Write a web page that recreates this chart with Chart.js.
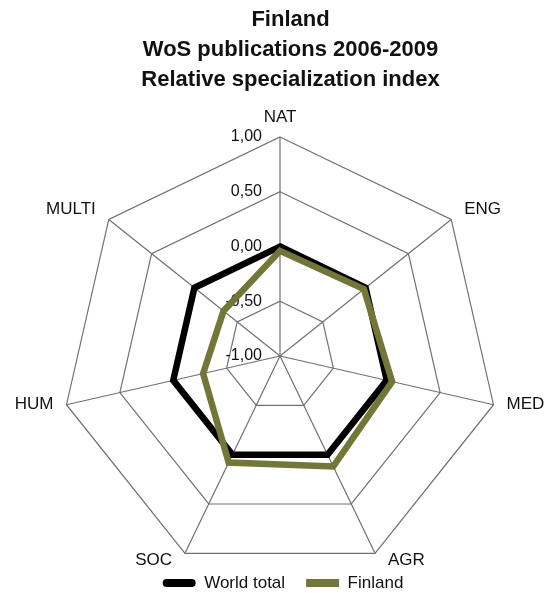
<!DOCTYPE html>
<html>
<head>
<meta charset="utf-8">
<script src="https://cdn.jsdelivr.net/npm/chart.js@4.4.1/dist/chart.umd.min.js"></script>
<style>
  html, body { margin: 0; padding: 0; background: #ffffff; }
  canvas { display: block; }
</style>
</head>
<body>
<canvas id="c" width="547" height="593"></canvas>
<script>
// ---- data ----
const categories = ['NAT', 'ENG', 'MED', 'AGR', 'SOC', 'HUM', 'MULTI'];
const worldTotal = [0, 0, 0, 0, 0, 0, 0];
const finland = [-0.04, -0.02, 0.05, 0.12, 0.08, -0.28, -0.34];
const tickLabels = ['-1,00', '-0,50', '0,00', '0,50', '1,00'];
const titleLines = ['Finland', 'WoS publications 2006-2009', 'Relative specialization index'];
const seriesNames = ['World total', 'Finland'];

const FONT = '"Liberation Sans", Arial, Helvetica, sans-serif';
const GRID = '#6c7175';
const OLIVE = '#737637';
Chart.defaults.font.family = FONT;

// tick labels drawn right-aligned beside the vertical axis, under the data
const tickPlugin = {
  id: 'sideTicks',
  beforeDatasetsDraw(chart) {
    const s = chart.scales.r, ctx = chart.ctx;
    ctx.save();
    ctx.font = '16px ' + FONT;
    ctx.fillStyle = '#111';
    ctx.textAlign = 'right';
    ctx.textBaseline = 'middle';
    s.ticks.forEach(t => {
      const y = s.yCenter - s.getDistanceFromCenterForValue(t.value);
      ctx.fillText(t.label, s.xCenter - 18, y);
    });
    ctx.restore();
  }
};

// category labels placed beside each spoke end
const pointLabelPlugin = {
  id: 'spokeLabels',
  afterDraw(chart) {
    const s = chart.scales.r, ctx = chart.ctx;
    ctx.save();
    ctx.font = '17px ' + FONT;
    ctx.fillStyle = '#111';
    ctx.textBaseline = 'middle';
    chart.data.labels.forEach((lab, i) => {
      const p = s.getPointPosition(i, s.drawingArea);
      const ux = (p.x - s.xCenter) / s.drawingArea;
      const uy = (s.yCenter - p.y) / s.drawingArea;
      let x, y;
      if (Math.abs(ux) < 0.01) {
        ctx.textAlign = 'center';
        x = p.x;
        y = uy > 0 ? p.y - 20 : p.y + 20;
      } else {
        ctx.textAlign = ux > 0 ? 'left' : 'right';
        x = p.x + (ux > 0 ? 13 : -13);
        y = p.y - 3 - 11.2 * uy;
      }
      ctx.fillText(lab, x, y);
    });
    ctx.restore();
  }
};

// nudge title and legend to their places in the reference
const placePlugin = {
  id: 'placeBlocks',
  afterLayout(chart) {
    const t = chart.titleBlock;
    if (t) { t.left += 10.5; t.right += 10.5; }
    const l = chart.legend;
    if (l) {
      const h = l.bottom - l.top;
      l.top = 553.5; l.bottom = l.top + h;
      l.left += 3; l.right += 3;
    }
  }
};

new Chart(document.getElementById('c'), {
  type: 'radar',
  data: {
    labels: categories,
    datasets: [
      {
        label: seriesNames[0],
        data: worldTotal,
        borderColor: '#000000',
        backgroundColor: '#000000',
        borderWidth: 6.5,
        fill: false,
        pointRadius: 0,
        pointHoverRadius: 0,
        borderJoinStyle: 'miter',
        order: 1
      },
      {
        label: seriesNames[1],
        data: finland,
        borderColor: OLIVE,
        backgroundColor: OLIVE,
        borderWidth: 6.5,
        fill: false,
        pointRadius: 0,
        pointHoverRadius: 0,
        borderJoinStyle: 'miter',
        order: 0
      }
    ]
  },
  options: {
    responsive: false,
    devicePixelRatio: 1,
    animation: false,
    events: [],
    layout: { padding: { left: 61, right: 48, top: 0, bottom: -30 } },
    scales: {
      r: {
        min: -1,
        max: 1,
        ticks: {
          stepSize: 0.5,
          display: false,
          callback: (v, i) => tickLabels[i]
        },
        grid: { color: GRID, lineWidth: 1.2, circular: false },
        angleLines: { display: true, color: GRID, lineWidth: 1.2 },
        pointLabels: { display: false }
      }
    },
    plugins: {
      title: {
        display: true,
        text: titleLines,
        color: '#111',
        font: { size: 22, weight: 'bold', family: FONT, lineHeight: 30 / 22 },
        padding: { top: 5, bottom: 42 }
      },
      legend: {
        display: true,
        position: 'bottom',
        labels: {
          color: '#111',
          font: { size: 17, family: FONT },
          boxWidth: 33,
          boxHeight: 8,
          padding: 21,
          generateLabels: (chart) => chart.data.datasets.map((ds, i) => ({
            text: ds.label,
            fillStyle: ds.borderColor,
            strokeStyle: ds.borderColor,
            lineWidth: 0,
            hidden: false,
            datasetIndex: i,
            fontColor: '#111',
            borderRadius: i === 0 ? 4 : 0
          }))
        }
      },
      tooltip: { enabled: false }
    }
  },
  plugins: [tickPlugin, pointLabelPlugin, placePlugin]
});
</script>
</body>
</html>
